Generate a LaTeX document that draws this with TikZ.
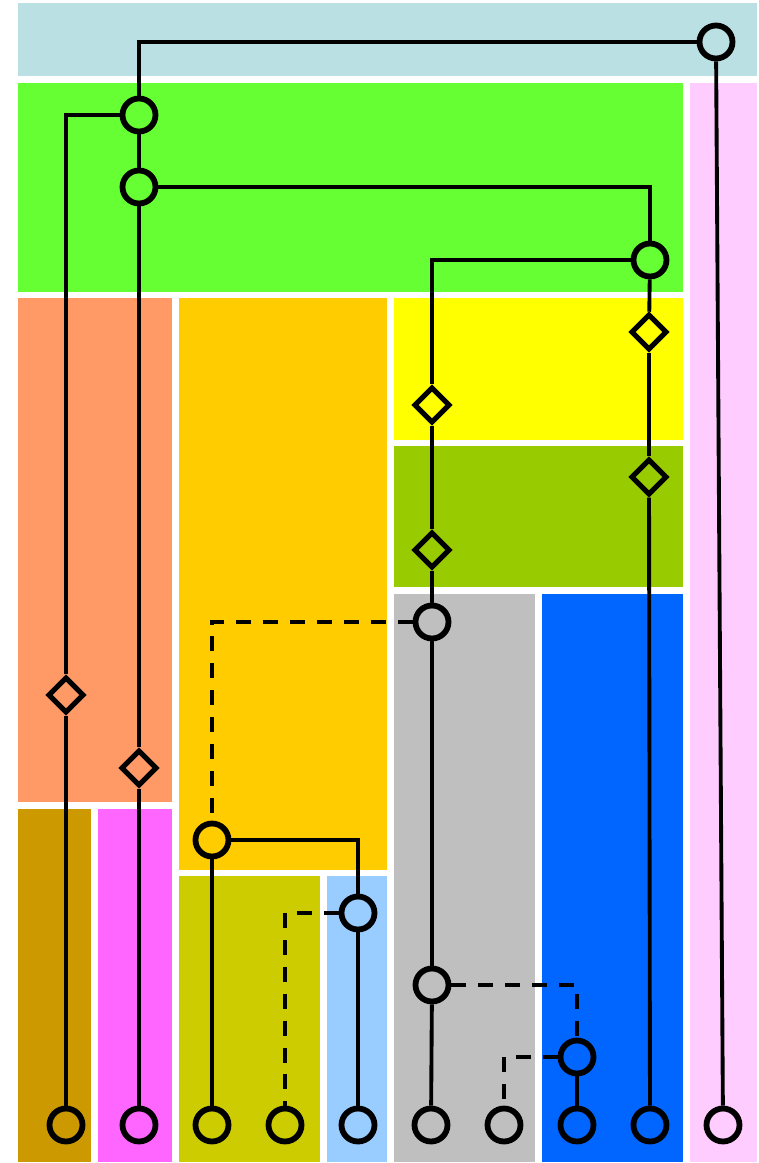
\documentclass[tikz,border=0pt]{standalone}
\usepackage{tikz}
\usetikzlibrary{
	positioning,
	shapes.geometric
}
\definecolor{topcolor}{HTML}{BBE0E3}
\definecolor{greencolor}{HTML}{66FF33}
\definecolor{pinkcolor}{HTML}{FFCCFF}
\definecolor{salmoncolor}{HTML}{FF9966}
\definecolor{goldcolor}{HTML}{FFCC00}
\definecolor{yellowcolor}{HTML}{FFFF00}
\definecolor{olivecolor}{HTML}{99CC00}
\definecolor{graycolor}{HTML}{BFBFBF}
\definecolor{bluecolor}{HTML}{0066FF}
\definecolor{darkgoldcolor}{HTML}{CC9900}
\definecolor{magentacolor}{HTML}{FF66FF}
\definecolor{mustardcolor}{HTML}{CCCC00}
\definecolor{skycolor}{HTML}{99CCFF}
\tikzset{
	region/.style={
		draw=none,
		fill=#1
	},
	splitnode/.style={
		shape=circle,
		draw=black,
		line width=3.3pt,
		minimum size=0.66cm,
		inner sep=0pt
	},
	testnode/.style={
		shape=diamond,
		draw=black,
		line width=2.9pt,
		minimum size=0.72cm,
		inner sep=0pt
	},
	link/.style={
		line width=2.2pt,
		color=black
	},
	dashlink/.style={
		link,
		dash pattern=on 8.5pt off 6.8pt
	}
}

\begin{document}
\begin{tikzpicture}[x=0.02cm, y=-0.02cm]

	\useasboundingbox[fill=white] (0,0) rectangle (758,1163);

	% Regions
	\fill[region=topcolor]      (18,3)    rectangle (757,76);
	\fill[region=greencolor]    (18,83)   rectangle (683,292);
	\fill[region=pinkcolor]     (690,83)  rectangle (757,1162);
	\fill[region=salmoncolor]   (18,298)  rectangle (172,802);
	\fill[region=goldcolor]     (179,298) rectangle (387,870);
	\fill[region=yellowcolor]   (394,298) rectangle (683,440);
	\fill[region=olivecolor]    (394,446) rectangle (683,587);
	\fill[region=graycolor]     (394,594) rectangle (535,1162);
	\fill[region=bluecolor]     (542,594) rectangle (683,1162);
	\fill[region=darkgoldcolor] (18,809)  rectangle (91,1162);
	\fill[region=magentacolor]  (98,809)  rectangle (172,1162);
	\fill[region=mustardcolor]  (179,876) rectangle (320,1162);
	\fill[region=skycolor]      (327,876) rectangle (387,1162);

	% Inner nodes
	\node[splitnode] (root)  at (716,42)   {};
	\node[splitnode] (grnA)  at (139,115)  {};
	\node[splitnode] (grnB)  at (139,187)  {};
	\node[splitnode] (grnC)  at (650,260)  {};
	\node[splitnode] (grayA) at (432,622)  {};
	\node[splitnode] (gold)  at (212,840)  {};
	\node[splitnode] (sky)   at (358,913)  {};
	\node[splitnode] (grayB) at (432,985)  {};
	\node[splitnode] (blue)  at (577,1057) {};

	% Diamonds
	\node[testnode] (salA) at (66,695)  {};
	\node[testnode] (salB) at (139,768) {};
	\node[testnode] (yelA) at (432,405) {};
	\node[testnode] (oliA) at (432,550) {};
	\node[testnode] (yelB) at (649,332) {};
	\node[testnode] (oliB) at (649,477) {};

	% Leaves
	\node[splitnode] (leafA) at (66,1125)  {};
	\node[splitnode] (leafB) at (139,1125) {};
	\node[splitnode] (leafC) at (212,1125) {};
	\node[splitnode] (leafD) at (285,1125) {};
	\node[splitnode] (leafE) at (358,1125) {};
	\node[splitnode] (leafF) at (431,1125) {};
	\node[splitnode] (leafG) at (504,1125) {};
	\node[splitnode] (leafH) at (577,1125) {};
	\node[splitnode] (leafI) at (650,1125) {};
	\node[splitnode] (leafJ) at (723,1125) {};

	% Links
	\draw[link] (root) -| (grnA);
	\draw[link] (root) -- (leafJ);
	\draw[link] (grnA) -| (salA);
	\draw[link] (salA) -- (leafA);
	\draw[link] (grnA) -- (grnB);
	\draw[link] (grnB) -| (grnC);
	\draw[link] (grnB) -- (salB);
	\draw[link] (salB) -- (leafB);
	\draw[link] (grnC) -| (yelA);
	\draw[link] (yelA) -- (oliA);
	\draw[link] (oliA) -- (grayA);
	\draw[link] (grnC) -- (yelB);
	\draw[link] (yelB) -- (oliB);
	\draw[link] (oliB) -- (leafI);
	\draw[link] (grayA) -- (grayB);
	\draw[link] (gold) -| (sky);
	\draw[link] (gold) -- (leafC);
	\draw[link] (sky) -- (leafE);
	\draw[link] (grayB) -- (leafF);
	\draw[link] (blue) -- (leafH);

	% Dashed links
	\draw[dashlink] (grayA) -| (gold);
	\draw[dashlink] (sky) -| (leafD);
	\draw[dashlink] (grayB) -| (blue);
	\draw[dashlink] (blue) -| (leafG);

\end{tikzpicture}
\end{document}
